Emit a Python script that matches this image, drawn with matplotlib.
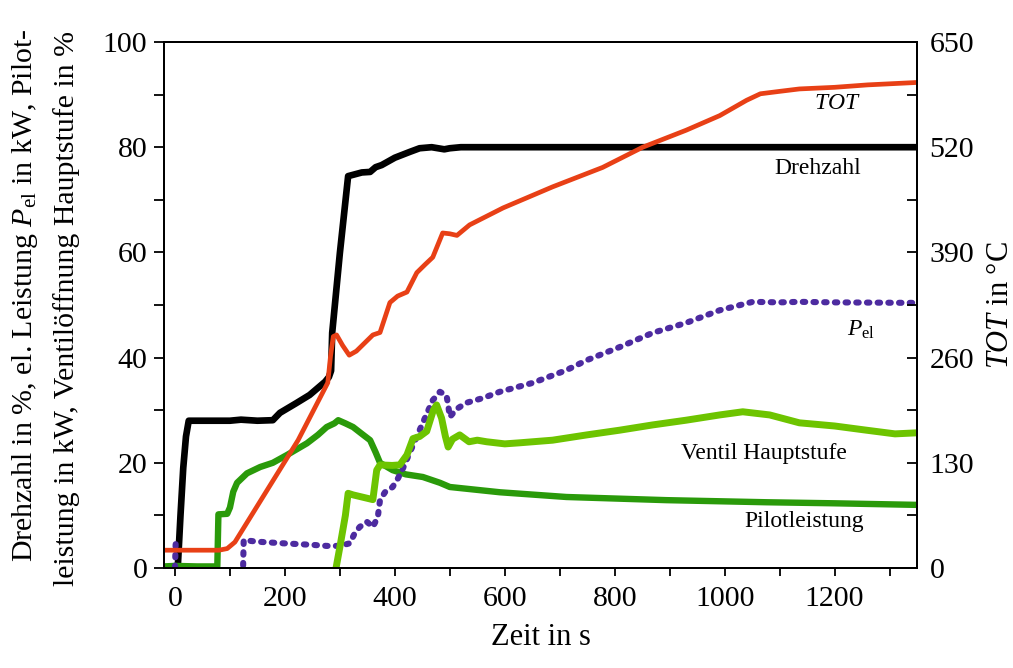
import numpy as np
import matplotlib
matplotlib.use("Agg")
import matplotlib.pyplot as plt
from matplotlib.ticker import MultipleLocator

plt.rcParams["font.family"] = ["Liberation Serif", "DejaVu Serif"]
plt.rcParams["mathtext.fontset"] = "custom"
plt.rcParams["mathtext.rm"] = "Liberation Serif"
plt.rcParams["mathtext.it"] = "Liberation Serif:italic"

# Drehzahl in %
drehzahl_t = [5, 10, 15, 20, 25, 60, 100, 120, 150, 178, 191, 220, 245, 273, 280,
              284, 286, 300, 315, 340, 355, 365, 376, 400, 427, 445, 467, 490, 500, 520, 1350]
drehzahl_v = [0, 10, 19, 25, 28, 28, 28, 28.2, 28, 28.1, 29.5, 31.3, 32.9, 35.4, 36.3,
              37.5, 44.7, 59.9, 74.5, 75.2, 75.3, 76.2, 76.6, 78, 79.1, 79.8, 80, 79.6, 79.8, 80, 80]

# Pilotleistung in kW
pilot_t = [-20, 0, 40, 77, 79, 95, 100, 106, 113, 131, 155, 178, 204, 240, 260, 276, 290,
           297, 310, 324, 340, 355, 365, 373, 396, 420, 451, 482, 500, 591, 712, 894,
           1076, 1200, 1350]
pilot_v = [0.3, 0.4, 0.3, 0.3, 10.2, 10.3, 11.5, 14.5, 16.2, 18, 19.2, 20, 21.5, 23.7, 25.3,
           26.8, 27.5, 28.1, 27.5, 26.8, 25.5, 24.3, 22, 20, 18.6, 17.8, 17.3, 16.2, 15.4,
           14.4, 13.5, 12.9, 12.5, 12.3, 12.0]

# el. Leistung P_el in kW (NaN = Lücke)
pel_t = [0, 1.5, np.nan, 124, 125, 150, 196, 250, 276, 300, 318, 327, 336, 349, 360, 369,
         373, 382, 396, 406, 415, 427, 445, 469, 482, 494, 497, 500, 512, 530, 560, 591,
         651, 712, 749, 809, 869, 930, 991, 1051, 1100, 1136, 1200, 1350]
pel_v = [0, 5.7, np.nan, 0.5, 5.3, 5.0, 4.7, 4.4, 4.2, 4.2, 4.7, 6.6, 7.8, 8.8, 7.8, 9.7,
         12.9, 14.4, 15.4, 17.1, 19, 21.9, 26.2, 31.9, 33.5, 32.8, 31, 28.7, 30.2, 31.4,
         32.3, 33.5, 35.2, 37.6, 39.5, 42, 44.7, 46.6, 49, 50.6, 50.5, 50.6, 50.5, 50.4]

# Ventilöffnung Hauptstufe in %
ventil_t = [293, 300, 310, 315, 324, 360, 367, 373, 395, 409, 422, 433, 445, 458, 470, 476,
            485, 492, 497, 505, 518, 535, 550, 567, 600, 627, 687, 749, 809, 869, 930, 991,
            1033, 1082, 1136, 1200, 1258, 1310, 1350]
ventil_v = [0, 4, 10, 14.2, 13.9, 13, 18.6, 19.6, 19.5, 19.6, 21.5, 24.6, 25, 26, 30, 31,
            28.5, 25, 23, 24.5, 25.3, 24, 24.3, 24, 23.6, 23.8, 24.3, 25.3, 26.2, 27.2, 28.1,
            29.1, 29.7, 29.1, 27.6, 27.0, 26.2, 25.5, 25.7]

# TOT in °C (rechte Achse)
tot_t = [-20, 80, 95, 109, 224, 278, 283, 288, 294, 305, 317, 330, 345, 360, 373, 391, 405,
         422, 440, 455, 469, 487, 500, 513, 536, 597, 687, 778, 851, 930, 991, 1040, 1065,
         1100, 1136, 1200, 1260, 1350]
tot_v = [22, 22, 24, 32, 158, 229, 262, 286, 288, 275, 263, 268, 278, 288, 291, 328, 336,
         341, 365, 375, 384, 414, 413, 411, 424, 445, 471, 495, 520, 541, 559, 578, 586,
         589, 592, 594, 597, 600]

C_BLACK = "#000000"
C_PILOT = "#2a9a0a"
C_PEL = "#4d2ba0"
C_VENTIL = "#6dc400"
C_TOT = "#e84016"

fig = plt.figure(figsize=(10.13, 6.68), dpi=100)
ax = fig.add_axes([164 / 1013, 1 - 568 / 668, (917 - 164) / 1013, (568 - 42) / 668])
ax2 = ax.twinx()

ax.plot(drehzahl_t, drehzahl_v, color=C_BLACK, lw=4.8, solid_capstyle="round",
        solid_joinstyle="round", zorder=2)
ax.plot(pilot_t, pilot_v, color=C_PILOT, lw=4.6, solid_capstyle="round",
        solid_joinstyle="round", zorder=3)
ax.plot(pel_t, pel_v, color=C_PEL, lw=4.4, linestyle=(0, (0.4, 1.35)),
        dash_capstyle="round", zorder=4)
ax.plot(ventil_t, ventil_v, color=C_VENTIL, lw=5.0, solid_capstyle="round",
        solid_joinstyle="round", zorder=5)
ax2.plot(tot_t, tot_v, color=C_TOT, lw=3.4, solid_capstyle="round", solid_joinstyle="round")

ax.set_xlim(-20, 1350)
ax.set_ylim(0, 100)
ax2.set_ylim(0, 650)

ax.xaxis.set_major_locator(MultipleLocator(200))
ax.xaxis.set_minor_locator(MultipleLocator(100))
ax.yaxis.set_major_locator(MultipleLocator(20))
ax.yaxis.set_minor_locator(MultipleLocator(10))
ax2.yaxis.set_major_locator(MultipleLocator(130))
ax2.yaxis.set_minor_locator(MultipleLocator(65))

ax.tick_params(axis="x", which="both", direction="out", length=6, width=1.3,
               labelsize=21.5, pad=7, top=False)
ax.tick_params(axis="y", which="both", direction="out", length=7, width=1.3,
               labelsize=21.5, pad=5, right=False)
ax2.tick_params(axis="y", which="both", direction="in", length=7.5, width=1.3,
                labelsize=21.5, pad=9)

for a in (ax, ax2):
    for sp in a.spines.values():
        sp.set_linewidth(1.4)

ax.set_xlabel("Zeit in s", fontsize=22, labelpad=8)
fig.text(25 / 1013, 1 - 295 / 668,
         r"Drehzahl in %, el. Leistung $P_{\mathrm{el}}$ in kW, Pilot-",
         rotation=90, ha="center", va="center", fontsize=21.5)
fig.text(67 / 1013, 1 - 308 / 668,
         "leistung in kW, Ventilöffnung Hauptstufe in %",
         rotation=90, ha="center", va="center", fontsize=21.5)
fig.text(1000 / 1013, 1 - 305 / 668, r"$TOT$ in °C",
         rotation=90, ha="center", va="center", fontsize=22)

ax.text(1205, 88.4, r"$TOT$", ha="center", va="center", fontsize=17)
ax.text(1169, 76, "Drehzahl", ha="center", va="center", fontsize=17)
ax.text(1249, 45.2, r"$P_{\mathrm{el}}$", ha="center", va="center", fontsize=17)
ax.text(1071, 21.7, "Ventil Hauptstufe", ha="center", va="center", fontsize=17)
ax.text(1144, 8.9, "Pilotleistung", ha="center", va="center", fontsize=17)

fig.savefig("out.png", dpi=100)
